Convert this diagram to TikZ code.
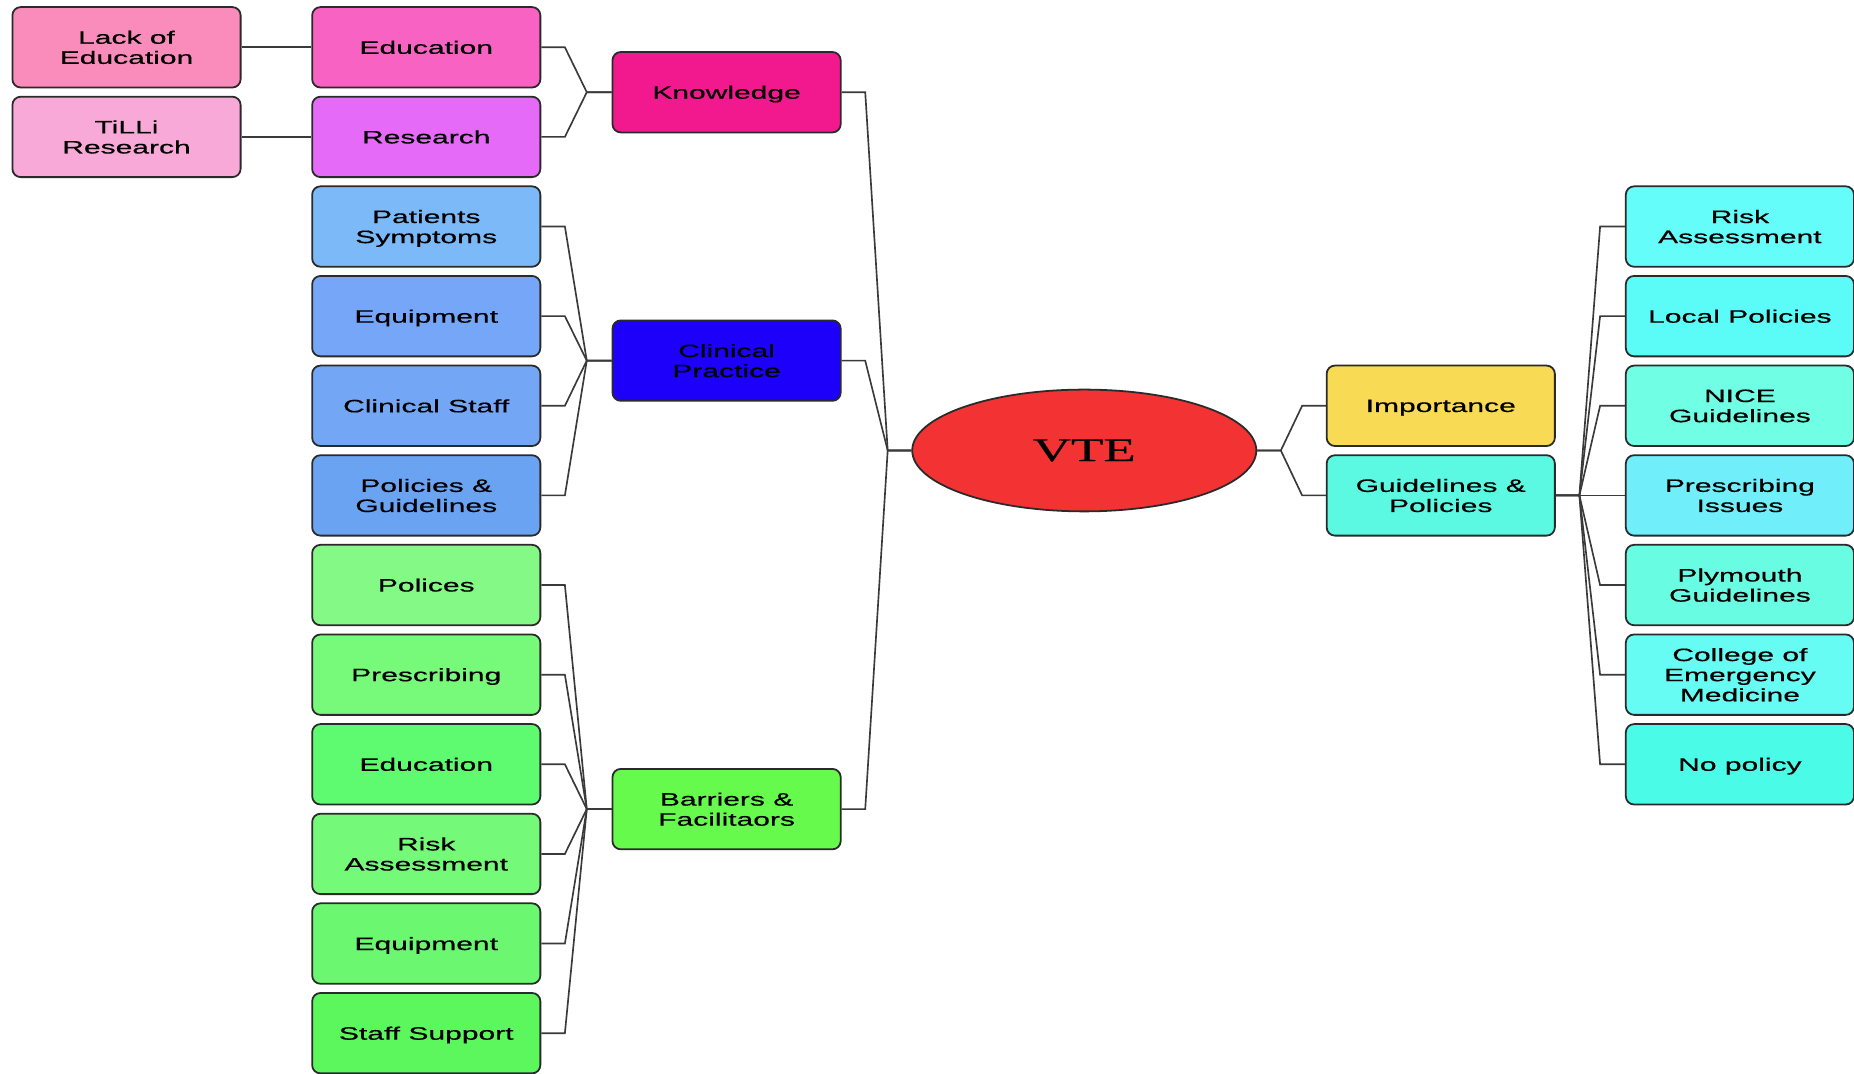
\documentclass[tikz,border=0pt]{standalone}
\usepackage{fontspec}
\setmainfont{Liberation Sans}[FakeStretch=1.67, FakeBold=0.5]
\newfontfamily\vtefont{Liberation Serif}[FakeStretch=1.6, FakeBold=0.4]
\usetikzlibrary{calc,shapes.geometric}

\definecolor{boxline}{HTML}{2A2A2A}
\definecolor{linkgray}{HTML}{3A3A3A}

\tikzset{
  box/.style={draw=boxline, line width=0.75pt, rounded corners=3.5pt,
    minimum width=96.5pt, minimum height=34pt, inner sep=1pt, align=center,
    text depth=0pt, text=black, font=\fontsize{7.6pt}{8.5pt}\selectfont},
  link/.style={draw=linkgray, line width=0.7pt},
}

\begin{document}
\begin{tikzpicture}[x=0.5pt, y=-0.5pt]
\useasboundingbox (0,0) rectangle (1568,908);
\fill[white] (0,0) rectangle (1568,908);

% outer column
\node[box, fill={rgb,255:red,249;green,140;blue,187}] (lackedu) at (107,40) {Lack of\\Education};
\node[box, fill={rgb,255:red,248;green,169;blue,216}] (tilli) at (107,115.8) {TiLLi\\Research};

% second column
\node[box, fill={rgb,255:red,248;green,98;blue,195}] (eduK) at (360.5,40) {Education};
\node[box, fill={rgb,255:red,230;green,106;blue,248}] (research) at (360.5,115.8) {Research};
\node[box, fill={rgb,255:red,124;green,185;blue,249}] (patients) at (360.5,191.6) {Patients\\Symptoms};
\node[box, fill={rgb,255:red,118;green,166;blue,248}] (equipC) at (360.5,267.4) {Equipment};
\node[box, fill={rgb,255:red,115;green,167;blue,246}] (staffC) at (360.5,343.2) {Clinical Staff};
\node[box, fill={rgb,255:red,107;green,163;blue,243}] (polguide) at (360.5,419) {Policies \&\\Guidelines};
\node[box, fill={rgb,255:red,132;green,249;blue,134}] (polices) at (360.5,494.8) {Polices};
\node[box, fill={rgb,255:red,119;green,249;blue,122}] (prescr) at (360.5,570.6) {Prescribing};
\node[box, fill={rgb,255:red,94;green,250;blue,112}] (eduB) at (360.5,646.4) {Education};
\node[box, fill={rgb,255:red,117;green,249;blue,120}] (riskB) at (360.5,722.2) {Risk\\Assessment};
\node[box, fill={rgb,255:red,107;green,248;blue,112}] (equipB) at (360.5,798) {Equipment};
\node[box, fill={rgb,255:red,92;green,247;blue,92}] (staffsup) at (360.5,873.8) {Staff Support};

% main branches
\node[box, fill={rgb,255:red,242;green,25;blue,143}] (know) at (614.5,78) {Knowledge};
\node[box, fill={rgb,255:red,28;green,0;blue,250}] (clin) at (614.5,305) {Clinical\\Practice};
\node[box, fill={rgb,255:red,102;green,250;blue,76}] (barriers) at (614.5,684.3) {Barriers \&\\Facilitaors};

% centre
\node[ellipse, draw=boxline, line width=0.75pt, fill={rgb,255:red,243;green,51;blue,51},
  minimum width=145.5pt, minimum height=51.5pt, inner sep=0pt,
  font=\vtefont\fontsize{14pt}{16pt}\selectfont] (vte) at (917,381) {VTE};

% right side
\node[box, fill={rgb,255:red,248;green,218;blue,85}] (imp) at (1218.5,343.2) {Importance};
\node[box, fill={rgb,255:red,91;green,249;blue,225}] (guide) at (1218.5,419) {Guidelines \&\\Policies};

\node[box, fill={rgb,255:red,100;green,253;blue,249}] (riskR) at (1471.5,191.6) {Risk\\Assessment};
\node[box, fill={rgb,255:red,91;green,252;blue,248}] (local) at (1471.5,267.4) {Local Policies};
\node[box, fill={rgb,255:red,112;green,254;blue,229}] (nice) at (1471.5,343.2) {NICE\\Guidelines};
\node[box, fill={rgb,255:red,112;green,238;blue,249}] (prescI) at (1471.5,419) {Prescribing\\Issues};
\node[box, fill={rgb,255:red,104;green,253;blue,227}] (plym) at (1471.5,494.8) {Plymouth\\Guidelines};
\node[box, fill={rgb,255:red,103;green,252;blue,243}] (college) at (1471.5,570.6) {College of\\Emergency\\Medicine};
\node[box, fill={rgb,255:red,74;green,251;blue,232}] (nopol) at (1471.5,646.4) {No policy};

% junction points
\coordinate (jK) at ($(know.west)+(-21,0)$);
\coordinate (jC) at ($(clin.west)+(-21,0)$);
\coordinate (jB) at ($(barriers.west)+(-21,0)$);
\coordinate (jV) at ($(vte.west)+(-20,0)$);
\coordinate (jR) at ($(vte.east)+(20,0)$);
\coordinate (jG) at ($(guide.east)+(20,0)$);

% connectors
\draw[link] (lackedu.east) -- (eduK.west);
\draw[link] (tilli.east) -- (research.west);
\foreach \c in {eduK,research}
  \draw[link] (\c.east) -- ++(20,0) -- (jK) -- (know.west);
\foreach \c in {patients,equipC,staffC,polguide}
  \draw[link] (\c.east) -- ++(20,0) -- (jC) -- (clin.west);
\foreach \c in {polices,prescr,eduB,riskB,equipB,staffsup}
  \draw[link] (\c.east) -- ++(20,0) -- (jB) -- (barriers.west);
\foreach \c in {know,clin,barriers}
  \draw[link] (\c.east) -- ++(20,0) -- (jV) -- (vte.west);
\foreach \c in {imp,guide}
  \draw[link] (\c.west) -- ++(-20,0) -- (jR) -- (vte.east);
\foreach \c in {riskR,local,nice,prescI,plym,college,nopol}
  \draw[link] (\c.west) -- ++(-21,0) -- (jG) -- (guide.east);
\end{tikzpicture}
\end{document}
